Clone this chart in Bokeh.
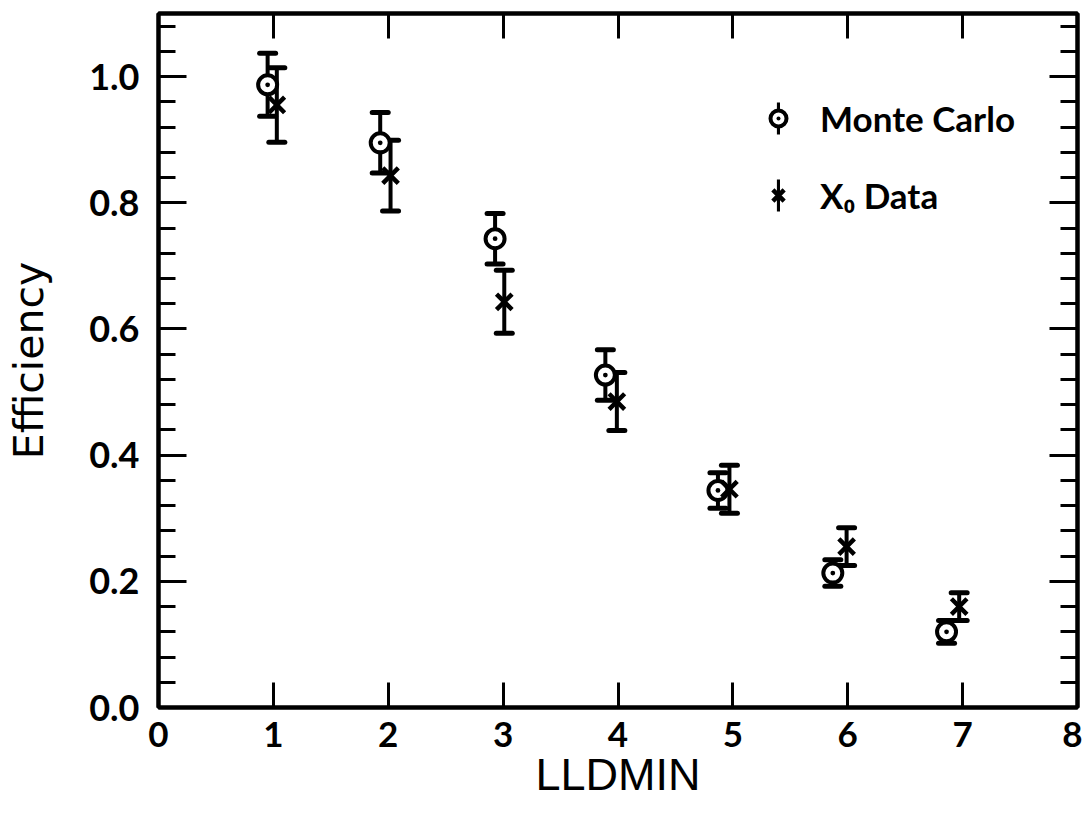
from bokeh.plotting import figure
from bokeh.models import (LinearAxis, FixedTicker, Range1d, Legend, LegendItem,
                          ColumnDataSource, PrintfTickFormatter)
from bokeh.embed import file_html
from bokeh.resources import INLINE

# ---- data ----
lldmin_mc = [0.95, 1.93, 2.93, 3.89, 4.87, 5.87, 6.86]
eff_mc = [0.987, 0.895, 0.743, 0.527, 0.344, 0.213, 0.120]
err_mc = [0.050, 0.048, 0.040, 0.040, 0.028, 0.021, 0.018]

lldmin_x0 = [1.03, 2.02, 3.01, 3.99, 4.97, 5.99, 6.97]
eff_x0 = [0.955, 0.843, 0.643, 0.485, 0.346, 0.255, 0.160]
err_x0 = [0.059, 0.056, 0.050, 0.046, 0.038, 0.030, 0.022]

x_ticks = [0, 1, 2, 3, 4, 5, 6, 7, 8]
y_ticks = [0.0, 0.2, 0.4, 0.6, 0.8, 1.0]
y_minor_ticks = [0.04, 0.08, 0.12, 0.16, 0.24, 0.28, 0.32, 0.36,
                 0.44, 0.48, 0.52, 0.56, 0.64, 0.68, 0.72, 0.76,
                 0.84, 0.88, 0.92, 0.96, 1.04, 1.08]

series_labels = ["Monte Carlo", "X\u2080 Data"]

FONT = "Lato"
INK = "black"


def make_source(xs, ys, errs):
    return ColumnDataSource(dict(
        x=xs, y=ys,
        h=[2 * e for e in errs],
        lo=[v - e for v, e in zip(ys, errs)],
        hi=[v + e for v, e in zip(ys, errs)]))


mc = make_source(lldmin_mc, eff_mc, err_mc)
x0 = make_source(lldmin_x0, eff_x0, err_x0)

p = figure(width=1082, height=812, output_backend="svg", toolbar_location=None,
           x_range=Range1d(0, 8), y_range=Range1d(0, 1.1),
           min_border_left=158, min_border_right=5, min_border_top=13,
           min_border_bottom=105,
           x_axis_label="LLDMIN", y_axis_label="Efficiency")
p.grid.visible = False
p.outline_line_color = INK
p.outline_line_width = 4
p.background_fill_color = "white"
p.border_fill_color = "white"

# bottom axis
xa = p.xaxis[0]
xa.ticker = FixedTicker(ticks=x_ticks)
xa.axis_line_width = 4
xa.major_tick_in = 25
xa.major_tick_out = 0
xa.major_tick_line_width = 3
xa.minor_tick_in = 0
xa.minor_tick_out = 0
xa.major_label_text_font = FONT
xa.major_label_text_font_style = "bold"
xa.major_label_text_font_size = "35px"
xa.major_label_text_color = INK
xa.major_label_standoff = 14
xa.axis_label_text_font = "Liberation Sans"
xa.axis_label_text_font_style = "normal"
xa.axis_label_text_font_size = "45px"
xa.axis_label_text_color = INK
xa.axis_label_standoff = -1

# left axis
ya = p.yaxis[0]
ya.ticker = FixedTicker(ticks=y_ticks, minor_ticks=y_minor_ticks)
ya.formatter = PrintfTickFormatter(format="%.1f")
ya.axis_line_width = 4
ya.major_tick_in = 28
ya.major_tick_out = 0
ya.major_tick_line_width = 3
ya.minor_tick_in = 17
ya.minor_tick_out = 0
ya.minor_tick_line_width = 3
ya.minor_tick_line_color = INK
ya.major_label_text_font = FONT
ya.major_label_text_font_style = "bold"
ya.major_label_text_font_size = "36px"
ya.major_label_text_color = INK
ya.major_label_standoff = 19
ya.axis_label_text_font = "DejaVu Sans"
ya.axis_label_text_font_style = "normal"
ya.axis_label_text_font_size = "41px"
ya.axis_label_text_color = INK
ya.axis_label_standoff = 33

# top axis (ticks only)
top = LinearAxis(ticker=FixedTicker(ticks=x_ticks),
                 major_label_overrides={t: "" for t in x_ticks},
                 major_label_text_font_size="1px", major_label_standoff=0,
                 axis_line_width=4, major_tick_in=25, major_tick_out=0,
                 major_tick_line_width=3, minor_tick_in=0, minor_tick_out=0)
p.add_layout(top, "above")

# right axis (ticks only)
right = LinearAxis(ticker=FixedTicker(ticks=y_ticks, minor_ticks=y_minor_ticks),
                   major_label_overrides={t: "" for t in y_ticks},
                   major_label_text_font_size="1px", major_label_standoff=0,
                   axis_line_width=4, major_tick_in=28, major_tick_out=0,
                   major_tick_line_width=3, minor_tick_in=17, minor_tick_out=0,
                   minor_tick_line_width=3, minor_tick_line_color=INK)
p.add_layout(right, "right")

# error bars (4px-wide rects spanning value +/- error) with caps
bar_renderers = []
for src in (mc, x0):
    r = p.rect(x="x", y="y", width=4, height="h", width_units="screen",
               source=src, fill_color=INK, line_color=None)
    bar_renderers.append(r)
    p.scatter(x="x", y="lo", source=src, marker="dash", size=16,
              line_color=INK, line_width=5, line_cap="round")
    p.scatter(x="x", y="hi", source=src, marker="dash", size=16,
              line_color=INK, line_width=5, line_cap="round")

mc_r = p.scatter(x="x", y="y", source=mc, marker="circle_dot", size=19,
                 fill_color="white", line_color=INK, line_width=4)
x0_r = p.scatter(x="x", y="y", source=x0, marker="x", size=22,
                 line_color=INK, line_width=4.5)

legend_common = dict(orientation="vertical", border_line_color=None,
                     background_fill_alpha=0, padding=0, margin=0,
                     spacing=33, glyph_height=40, label_height=44)

# narrow legend that only shows the error-bar sample of each entry
bar_legend = Legend(items=[LegendItem(label=" ", renderers=[bar_renderers[0]]),
                           LegendItem(label=" ", renderers=[bar_renderers[1]])],
                    location=(618, 490), glyph_width=4, label_standoff=0,
                    label_text_font_size="8px", **legend_common)
p.add_layout(bar_legend)

legend = Legend(items=[LegendItem(label=series_labels[0], renderers=[mc_r]),
                       LegendItem(label=series_labels[1], renderers=[x0_r])],
                location=(600, 490), glyph_width=40, label_standoff=22,
                label_text_font=FONT, label_text_font_style="bold",
                label_text_font_size="35px", label_text_color=INK,
                **legend_common)
p.add_layout(legend)

open("out.html", "w").write(file_html(p, INLINE))
